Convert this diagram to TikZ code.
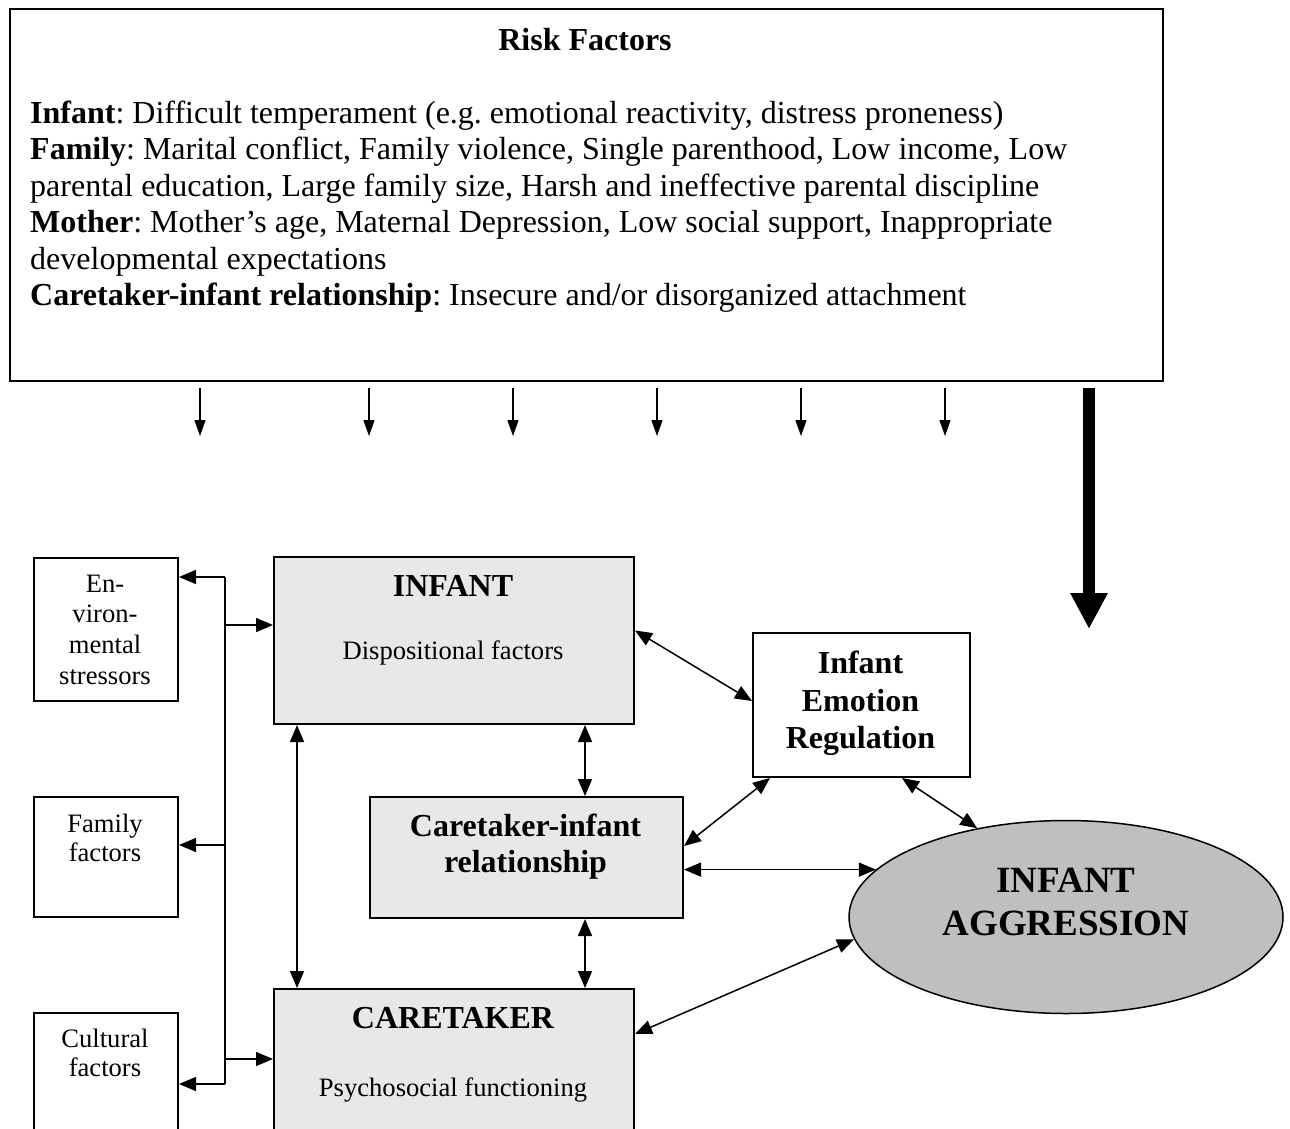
\documentclass[tikz,border=0pt]{standalone}
\usepackage{fontspec}
\setmainfont{Liberation Serif}
\usetikzlibrary{arrows.meta,shapes.geometric}
\definecolor{boxgray}{HTML}{E8E8E8}
\definecolor{ellgray}{HTML}{BFBFBF}
\frenchspacing
\begin{document}
\begin{tikzpicture}[x=1pt,y=-1pt,
  bigtxt/.style={font=\fontsize{32}{36}\selectfont, inner sep=0pt, anchor=base},
  bigbold/.style={font=\fontsize{32}{36}\selectfont\bfseries, inner sep=0pt, anchor=base},
  hugebold/.style={font=\fontsize{37}{42}\selectfont\bfseries, inner sep=0pt, anchor=base},
  smalltxt/.style={font=\fontsize{26.6}{30}\selectfont, inner sep=0pt, anchor=base},
  frame/.style={draw, line width=2pt, inner sep=0pt, anchor=north west},
  shaded/.style={frame, fill=boxgray},
  arr/.style={line width=1.5pt, -{Triangle[length=17pt,width=14pt]}},
  bi/.style={line width=1.5pt, {Triangle[length=17pt,width=14pt]}-{Triangle[length=17pt,width=14pt]}},
  dn/.style={line width=1.2pt, -{Triangle[length=16pt,width=11pt]}},
  fat/.style={line width=12pt, -{Triangle[length=36pt,width=35pt]}}
]
\useasboundingbox (0,0) rectangle (1290,1128);

% Risk factors box
\node[frame, minimum width=1153pt, minimum height=372pt] (risk) at (9,8) {};
\node[bigbold] (rtitle) at (585,50) {Risk Factors};
\node[bigtxt, anchor=base west] (r1) at (30,123) {\textbf{Infant}: Difficult temperament (e.g. emotional reactivity, distress proneness)};
\node[bigtxt, anchor=base west] (r2) at (30,159.5) {\textbf{Family}: Marital conflict, Family violence, Single parenthood, Low income, Low};
\node[bigtxt, anchor=base west] (r3) at (30,196) {parental education, Large family size, Harsh and ineffective parental discipline};
\node[bigtxt, anchor=base west] (r4) at (30,232.5) {\textbf{Mother}: Mother’s age, Maternal Depression, Low social support, Inappropriate};
\node[bigtxt, anchor=base west] (r5) at (30,269) {developmental expectations};
\node[bigtxt, anchor=base west] (r6) at (30,305.5) {\textbf{Caretaker-infant relationship}: Insecure and/or disorganized attachment};

% small down arrows
\foreach \i/\x in {1/200,2/369,3/513,4/657,5/801,6/945}{
  \coordinate (d\i s) at (\x,388);
  \coordinate (d\i e) at (\x,436);
  \draw[dn] (d\i s) -- (d\i e);
}
% thick arrow
\coordinate (fs) at (1089,388);
\coordinate (fe) at (1089,629);
\draw[fat] (fs) -- (fe);

% left boxes
\node[frame, minimum width=144pt, minimum height=143pt] (env) at (33,557) {};
\node[smalltxt] (env1) at (105,592) {En-};
\node[smalltxt] (env2) at (105,622) {viron-};
\node[smalltxt] (env3) at (105,653) {mental};
\node[smalltxt] (env4) at (105,684) {stressors};

\node[frame, minimum width=144pt, minimum height=120pt] (fam) at (33,796) {};
\node[smalltxt] (fam1) at (105,832) {Family};
\node[smalltxt] (fam2) at (105,861) {factors};

\node[frame, minimum width=144pt, minimum height=150pt] (cul) at (33,1012) {};
\node[smalltxt] (cul1) at (105,1047) {Cultural};
\node[smalltxt] (cul2) at (105,1076) {factors};

% central boxes
\node[shaded, minimum width=360pt, minimum height=167pt] (inf) at (273,556) {};
\node[bigbold] (inf1) at (453,596) {INFANT};
\node[smalltxt] (inf2) at (453,659) {Dispositional factors};

\node[shaded, minimum width=313pt, minimum height=121pt] (ci) at (369,796) {};
\node[bigbold] (ci1) at (525.5,836) {Caretaker-infant};
\node[bigbold] (ci2) at (525.5,872) {relationship};

\node[shaded, minimum width=360pt, minimum height=180pt] (cts) at (273,988) {};
\node[bigbold] (cts1) at (453,1028) {CARETAKER};
\node[smalltxt] (cts2) at (453,1096) {Psychosocial functioning};

\node[frame, minimum width=217pt, minimum height=144pt] (emo) at (752,632) {};
\node[bigbold] (emo1) at (860.5,673) {Infant};
\node[bigbold] (emo2) at (860.5,711) {Emotion};
\node[bigbold] (emo3) at (860.5,748) {Regulation};

\node[ellipse, draw, line width=1.5pt, fill=ellgray, minimum width=434pt, minimum height=193pt, inner sep=0pt] (ell) at (1066,917) {};
\node[hugebold] (ell1) at (1066,892) {INFANT};
\node[hugebold] (ell2) at (1066,935) {AGGRESSION};

% left connector
\coordinate (j1) at (225,577);
\coordinate (j2) at (225,625);
\coordinate (j3) at (225,845);
\coordinate (j5) at (225,1059);
\coordinate (j4) at (225,1084);
\draw[line width=1.5pt] (j1) -- (j4);
\draw[arr] (j1) -- (env.east |- j1);
\draw[arr] (j2) -- (inf.west |- j2);
\draw[arr] (j3) -- (fam.east |- j3);
\draw[arr] (j5) -- (cts.west |- j5);
\draw[arr] (j4) -- (cul.east |- j4);

% vertical bidirectional arrows
\coordinate (vL) at (297,0);
\coordinate (vR) at (585,0);
\draw[bi] (inf.south -| vL) -- (cts.north -| vL);
\draw[bi] (inf.south -| vR) -- (ci.north -| vR);
\draw[bi] (ci.south -| vR) -- (cts.north -| vR);

% diagonal / horizontal arrows
\draw[bi] ([yshift=10pt]inf.east) -- ([yshift=4pt]emo.west);
\draw[bi] ([xshift=18pt]emo.south west) -- ([yshift=11.5pt]ci.east);
\draw[bi] ([xshift=-69pt]emo.south east) -- (ell.135);
\draw[bi] (ci.east |- ell.166) -- (ell.166);
\draw[bi] (ell.186) -- ([yshift=45pt]cts.east);
\end{tikzpicture}
\end{document}
